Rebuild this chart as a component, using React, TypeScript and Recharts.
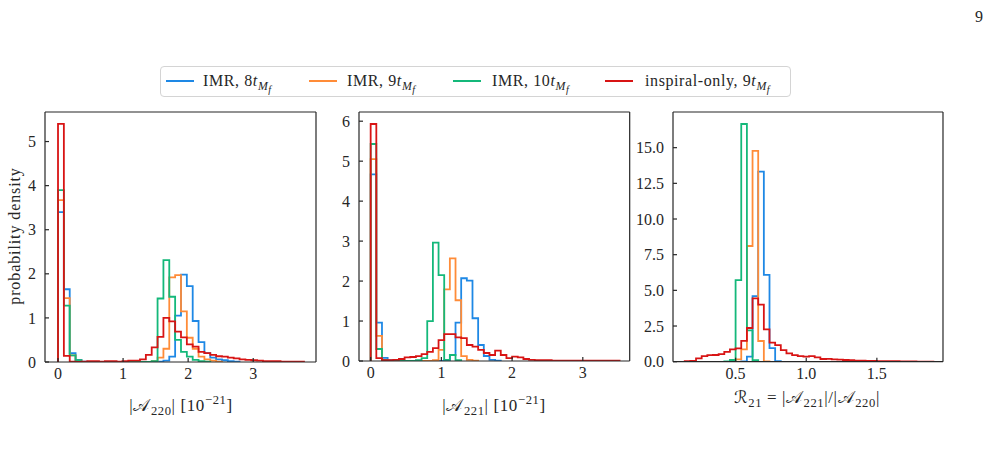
import React from 'react';
import { LineChart, Line, XAxis, YAxis } from 'recharts';

// histogram heights (probability density), one value per bin
// |A220| panel: bins of 0.09 starting at 0
const a220Imr8 = [3.4, 1.65, 0.2, 0.05, 0.01, 0, 0, 0, 0, 0, 0, 0, 0, 0, 0, 0, 0, 0.01, 0.03, 0.12, 1.05, 1.98, 1.72, 0.93, 0.45, 0.2, 0.1, 0.06, 0.04, 0.02, 0.01];
const a220Imr9 = [3.67, 1.45, 0.15, 0.03, 0, 0, 0, 0, 0, 0, 0, 0, 0, 0, 0, 0, 0.02, 0.1, 0.3, 1.92, 1.97, 1.15, 0.55, 0.3, 0.12, 0.06, 0.03, 0.01];
const a220Imr10 = [3.9, 1.28, 0.15, 0.04, 0, 0, 0, 0, 0, 0, 0, 0, 0, 0, 0, 0, 0.02, 1.44, 2.31, 1.48, 0.5, 0.23, 0.12, 0.05, 0.02, 0.01];
const a220Insp9 = [5.4, 0.14, 0.01, 0, 0.01, 0.02, 0.02, 0.01, 0.02, 0.02, 0.01, 0.02, 0.03, 0.03, 0.06, 0.16, 0.33, 0.57, 1.0, 0.92, 0.69, 0.56, 0.4, 0.35, 0.23, 0.2, 0.16, 0.13, 0.12, 0.1, 0.08, 0.06, 0.05, 0.04, 0.03, 0.02, 0.02, 0.02, 0.01, 0.01, 0.01, 0.01];

// |A221| panel: bins of 0.08 starting at 0
const a221Imr8 = [4.67, 0.96, 0.08, 0.02, 0, 0, 0, 0, 0, 0, 0, 0, 0, 0.02, 0.15, 0.96, 2.07, 2.01, 1.07, 0.4, 0.125, 0.03, 0.01];
const a221Imr9 = [5.05, 0.63, 0.03, 0, 0, 0, 0, 0, 0, 0, 0, 0.02, 0.28, 1.79, 2.57, 1.52, 0.12, 0.03, 0.01];
const a221Imr10 = [5.43, 0.3, 0.02, 0, 0, 0, 0, 0, 0.02, 0.07, 1.0, 2.96, 2.15, 0.03, 0.15, 0.02];
const a221Insp9 = [5.93, 0.07, 0.02, 0.02, 0.03, 0.05, 0.09, 0.1, 0.12, 0.17, 0.23, 0.32, 0.52, 0.67, 0.67, 0.59, 0.57, 0.4, 0.36, 0.28, 0.2, 0.15, 0.26, 0.15, 0.07, 0.11, 0.09, 0.05, 0.03, 0.02, 0.02, 0.02, 0.01, 0.01, 0.01, 0.01, 0.01, 0.01, 0.01, 0.01, 0.01, 0.01, 0.01, 0.01];

// R21 panel: bins of 0.04, each series with its own first edge
const r21Imr8 = [0.02, 0.35, 4.6, 13.32, 6.08, 0.95, 0.03];
const r21Imr9 = [0.03, 0.16, 0.86, 8.11, 14.77, 1.45, 0.02];
const r21Imr10 = [0.02, 0.12, 5.72, 16.66, 2.2, 0.1];
const r21Insp9 = [0.04, 0.06, 0.23, 0.39, 0.46, 0.47, 0.53, 0.69, 0.86, 0.93, 1.46, 2.36, 4.44, 4.0, 2.27, 1.34, 1.16, 0.81, 0.58, 0.46, 0.39, 0.35, 0.39, 0.3, 0.19, 0.2, 0.16, 0.15, 0.12, 0.1, 0.08, 0.07, 0.06, 0.05, 0.04, 0.04, 0.03, 0.03, 0.02, 0.02, 0.02, 0.01, 0.01, 0.01];
const r21Starts = { imr8: 0.54, imr9: 0.46, imr10: 0.42, insp9: 0.14 };

const a220Ticks = [0, 1, 2, 3];
const a220DensityTicks = [0, 1, 2, 3, 4, 5];
const a221Ticks = [0, 1, 2, 3];
const a221DensityTicks = [0, 1, 2, 3, 4, 5, 6];
const r21Ticks = [0.5, 1.0, 1.5];
const r21DensityTicks = [0, 2.5, 5, 7.5, 10, 12.5, 15];

const COLORS = {
  imr8: '#1e88e5',
  imr9: '#ff8c38',
  imr10: '#14b87a',
  insp9: '#d81414',
};

const INK = '#262626';
const SERIF = '"Liberation Serif", "DejaVu Serif", serif';

// outline of a step histogram: up from the first edge, across each bin, down at the last edge
function stepOutline(start: number, width: number, heights: number[]) {
  const pts = [{ x: start, y: 0 }];
  heights.forEach((h, i) => pts.push({ x: start + i * width, y: h }));
  pts.push({ x: start + heights.length * width, y: 0 });
  return pts;
}

type Series = { key: keyof typeof COLORS; data: { x: number; y: number }[] };

interface PanelProps {
  left: number;
  top: number;
  width: number;
  height: number;
  xDomain: [number, number];
  yDomain: [number, number];
  xTicks: number[];
  yTicks: number[];
  xFmt?: (v: number) => string;
  yFmt?: (v: number) => string;
  series: Series[];
}

function Panel({ left, top, width, height, xDomain, yDomain, xTicks, yTicks, xFmt, yFmt, series }: PanelProps) {
  const tickStyle = { fill: INK, fontSize: 16, fontFamily: SERIF };
  const line = { stroke: INK, strokeWidth: 1.2 };
  return (
    <div style={{ position: 'absolute', left, top }}>
      <LineChart width={width} height={height} margin={{ top: 5, right: 5, bottom: 5, left: 5 }}>
        <XAxis xAxisId="b" type="number" dataKey="x" domain={xDomain} ticks={xTicks} interval={0}
          allowDataOverflow tickFormatter={xFmt} tick={tickStyle} tickSize={-4} tickMargin={10}
          height={30} axisLine={line} tickLine={line} />
        <XAxis xAxisId="t" orientation="top" type="number" dataKey="x" domain={xDomain} ticks={xTicks}
          interval={0} allowDataOverflow tick={false} tickSize={-4} height={5} axisLine={line} tickLine={line} />
        <YAxis yAxisId="l" type="number" domain={yDomain} ticks={yTicks} interval={0} allowDataOverflow
          tickFormatter={yFmt} tick={tickStyle} tickSize={-4} tickMargin={13} width={40}
          axisLine={line} tickLine={line} />
        <YAxis yAxisId="r" orientation="right" type="number" domain={yDomain} ticks={yTicks} interval={0}
          allowDataOverflow tick={false} tickSize={-4} width={5} axisLine={line} tickLine={line} />
        {series.map(s => (
          <Line key={s.key} xAxisId="b" yAxisId="l" data={s.data} dataKey="y" type="stepAfter"
            stroke={COLORS[s.key]} strokeWidth={1.8} dot={false} isAnimationActive={false} />
        ))}
      </LineChart>
    </div>
  );
}

const mathI: React.CSSProperties = { fontStyle: 'italic' };
const sub: React.CSSProperties = { fontSize: '0.74em' };
const calA = <span style={{ fontFamily: '"DejaVu Sans", serif', marginRight: 1 }}>𝒜</span>;

function TMf({ n }: { n: number }) {
  return (
    <span>
      {n}<span style={mathI}>t</span>
      <sub style={{ ...sub, ...mathI }}>M<sub style={{ fontSize: '0.85em' }}>f</sub></sub>
    </span>
  );
}

const legendItems = [
  { key: 'imr8' as const, label: <>IMR, <TMf n={8} /></>, lineX: 5, textX: 42 },
  { key: 'imr9' as const, label: <>IMR, <TMf n={9} /></>, lineX: 148, textX: 186 },
  { key: 'imr10' as const, label: <>IMR, <TMf n={10} /></>, lineX: 292, textX: 331 },
  { key: 'insp9' as const, label: <>inspiral-only, <TMf n={9} /></>, lineX: 444, textX: 484 },
];

export default function App() {
  const fmt1 = (v: number) => v.toFixed(1);
  const textBase: React.CSSProperties = { position: 'absolute', fontFamily: SERIF, color: INK, fontSize: 16, whiteSpace: 'nowrap' };
  const title: React.CSSProperties = { ...textBase, fontSize: 17, letterSpacing: 0.6, lineHeight: '20px', transform: 'translateX(-50%)' };

  return (
    <div style={{ position: 'absolute', left: 0, top: 0, width: 989, height: 453, background: '#fff', overflow: 'hidden' }}>
      <div style={{ ...textBase, left: 975, top: 8, fontSize: 16 }}>9</div>

      {/* legend */}
      <div style={{ position: 'absolute', left: 160, top: 66, width: 631, height: 31, border: '1px solid #d4d4d4', borderRadius: 4, boxSizing: 'border-box' }}>
        {legendItems.map(it => (
          <React.Fragment key={it.key}>
            <div style={{ position: 'absolute', left: it.lineX, top: 13, width: 28, height: 2, background: COLORS[it.key] }} />
            <div style={{ ...textBase, left: it.textX, top: 4, lineHeight: '20px', letterSpacing: 0.6 }}>{it.label}</div>
          </React.Fragment>
        ))}
      </div>

      <Panel left={0} top={102} width={326} height={295}
        xDomain={[-0.2, 3.965]} yDomain={[0, 5.67]} xTicks={a220Ticks} yTicks={a220DensityTicks}
        series={[
          { key: 'imr8', data: stepOutline(0, 0.09, a220Imr8) },
          { key: 'imr9', data: stepOutline(0, 0.09, a220Imr9) },
          { key: 'imr10', data: stepOutline(0, 0.09, a220Imr10) },
          { key: 'insp9', data: stepOutline(0, 0.09, a220Insp9) },
        ]} />
      <Panel left={314.3} top={102} width={325.7} height={294}
        xDomain={[-0.165, 3.663]} yDomain={[0, 6.23]} xTicks={a221Ticks} yTicks={a221DensityTicks}
        series={[
          { key: 'imr8', data: stepOutline(0, 0.08, a221Imr8) },
          { key: 'imr9', data: stepOutline(0, 0.08, a221Imr9) },
          { key: 'imr10', data: stepOutline(0, 0.08, a221Imr10) },
          { key: 'insp9', data: stepOutline(0, 0.08, a221Insp9) },
        ]} />
      <Panel left={627.7} top={102} width={325} height={294.7}
        xDomain={[0.057, 1.968]} yDomain={[0, 17.5]} xTicks={r21Ticks} yTicks={r21DensityTicks}
        xFmt={fmt1} yFmt={fmt1}
        series={[
          { key: 'imr8', data: stepOutline(r21Starts.imr8, 0.04, r21Imr8) },
          { key: 'imr9', data: stepOutline(r21Starts.imr9, 0.04, r21Imr9) },
          { key: 'imr10', data: stepOutline(r21Starts.imr10, 0.04, r21Imr10) },
          { key: 'insp9', data: stepOutline(r21Starts.insp9, 0.04, r21Insp9) },
        ]} />

      {/* axis titles */}
      <div style={{ ...textBase, left: 15, top: 236, fontSize: 16, letterSpacing: 0.9, transform: 'translate(-50%, -50%) rotate(-90deg)' }}>probability density</div>
      <div style={{ ...title, left: 181, top: 390 }}>
        |{calA}<sub style={sub}>220</sub>| [10<sup style={sub}>−21</sup>]
      </div>
      <div style={{ ...title, left: 494, top: 390 }}>
        |{calA}<sub style={sub}>221</sub>| [10<sup style={sub}>−21</sup>]
      </div>
      <div style={{ ...title, left: 807, top: 387 }}>
        <span style={{ fontFamily: '"DejaVu Sans", serif' }}>ℛ</span><sub style={sub}>21</sub> = |{calA}<sub style={sub}>221</sub>|/|{calA}<sub style={sub}>220</sub>|
      </div>
    </div>
  );
}
